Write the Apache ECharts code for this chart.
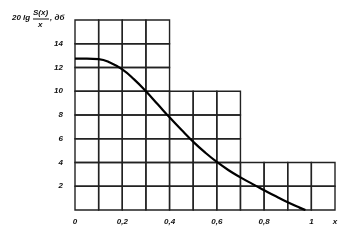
<!DOCTYPE html>
<html><head><meta charset="utf-8">
<script src="https://cdn.jsdelivr.net/npm/echarts@6/dist/echarts.min.js"></script>
<style>html,body{margin:0;padding:0;background:#fff}#c{width:354px;height:241px}</style>
</head><body><div id="c"></div>
<script>
// Curve data
const xValues = [0, 0.05, 0.1, 0.15, 0.2, 0.25, 0.3, 0.35, 0.4, 0.45, 0.5, 0.55, 0.6, 0.65, 0.7, 0.75, 0.8, 0.85, 0.9, 0.95, 0.975];
const yValues = [12.75, 12.75, 12.7, 12.4, 11.85, 11.0, 10.0, 8.9, 7.8, 6.75, 5.75, 4.85, 4.05, 3.35, 2.75, 2.2, 1.67, 1.15, 0.65, 0.2, 0];
// Grid columns (start x) and their top heights
const colStarts = [0, 0.1, 0.2, 0.3, 0.4, 0.5, 0.6, 0.7, 0.8, 0.9, 1.0];
const colTops   = [16, 16, 16, 16, 10, 10, 10, 4, 4, 4, 4];
const xTickLabels = {0: '0', 2: '0,2', 4: '0,4', 6: '0,6', 8: '0,8', 10: '1', 11: 'x'};
const yTickLabels = ['2', '4', '6', '8', '10', '12', '14'];

const chart = echarts.init(document.getElementById('c'));
const font = {fontFamily: 'Liberation Sans', fontStyle: 'italic', fontWeight: 'bold', fontSize: 8, color: '#111'};
chart.setOption({
  animation: false,
  grid: {left: 75, right: 19, top: 20, bottom: 31},
  xAxis: {
    type: 'value', min: 0, max: 1.1, interval: 0.1,
    axisLine: {show: false}, axisTick: {show: false}, splitLine: {show: false},
    axisLabel: Object.assign({margin: 8, showMaxLabel: true, formatter: v => {
      const k = Math.round(v * 10); return xTickLabels[k] !== undefined ? xTickLabels[k] : '';
    }}, font)
  },
  yAxis: {
    type: 'value', min: 0, max: 16, interval: 2,
    axisLine: {show: false}, axisTick: {show: false}, splitLine: {show: false},
    axisLabel: Object.assign({margin: 12, formatter: v => yTickLabels.includes(String(v)) ? String(v) : ''}, font)
  },
  graphic: [
    {type: 'text', left: 12, top: 14, style: {text: '20 lg', font: 'italic bold 8px Liberation Sans', fill: '#111'}},
    {type: 'text', left: 33, top: 9, style: {text: 'S(x)', font: 'italic bold 8px Liberation Sans', fill: '#111'}},
    {type: 'line', shape: {x1: 33, y1: 19, x2: 49, y2: 19}, style: {stroke: '#111', lineWidth: 1}},
    {type: 'text', left: 38, top: 21, style: {text: 'x', font: 'italic bold 8px Liberation Sans', fill: '#111'}},
    {type: 'text', left: 50, top: 14, style: {text: ', дб', font: 'italic bold 8px Liberation Sans', fill: '#111'}}
  ],
  series: [
    {
      type: 'custom',
      data: colStarts.map((x, i) => [x, colTops[i]]),
      renderItem: (params, api) => {
        const x0 = api.value(0), top = api.value(1);
        const children = [];
        for (let y = 0; y < top; y += 2) {
          const p0 = api.coord([x0, y + 2]);
          const p1 = api.coord([x0 + 0.1, y]);
          children.push({type: 'rect', shape: {x: p0[0], y: p0[1], width: p1[0] - p0[0], height: p1[1] - p0[1]},
            style: {fill: 'none', stroke: '#222', lineWidth: 1.4}});
        }
        return {type: 'group', children};
      },
      z: 1
    },
    {
      type: 'line', data: xValues.map((x, i) => [x, yValues[i]]), smooth: 0.5, showSymbol: false,
      lineStyle: {color: '#000', width: 2.2}, z: 5
    }
  ]
});
</script></body></html>
